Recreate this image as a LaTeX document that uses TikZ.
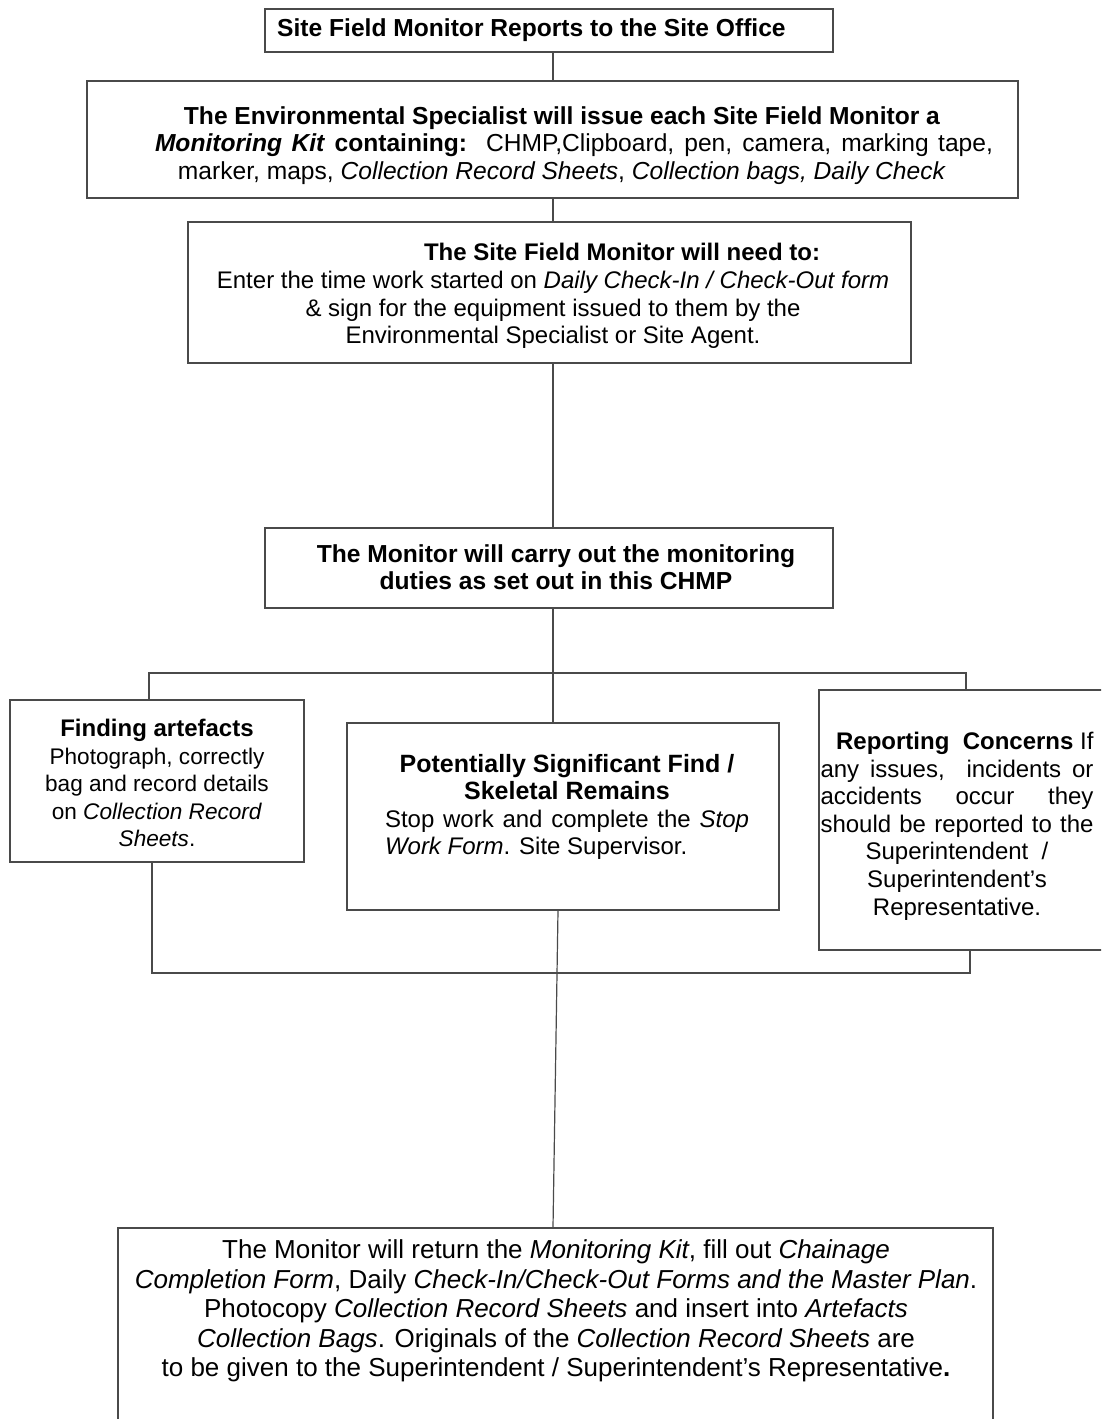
\documentclass[tikz,border=0pt]{standalone}
\usepackage{fontspec}
\setmainfont{Liberation Sans}
\definecolor{linec}{HTML}{4A4A4A}
\tikzset{
  box/.style={draw=linec, line width=1.3pt, inner sep=0pt},
  link/.style={draw=linec, line width=1.2pt},
  txt/.style={inner sep=0pt, align=center, font=\fontsize{24}{27.6}\selectfont},
  bigtxt/.style={inner sep=0pt, align=center, font=\fontsize{26}{29.5}\selectfont},
}
\begin{document}
\begin{tikzpicture}[x=1pt, y=-1pt]
  \useasboundingbox (0,0) rectangle (1101,1419);
  \clip (0,0) rectangle (1101,1419);

  % frames
  \node[box, minimum width=568, minimum height=43]  (b1) at (549,30.5) {};
  \node[box, minimum width=931, minimum height=117] (b2) at (552.5,139.5) {};
  \node[box, minimum width=723, minimum height=141] (b3) at (549.5,292.5) {};
  \node[box, minimum width=568, minimum height=80]  (b4) at (549,568) {};
  \node[box, minimum width=294, minimum height=162] (b5) at (157,781) {};
  \node[box, minimum width=432, minimum height=187] (b6) at (563,816.5) {};
  \node[box, minimum width=296, minimum height=260] (b7) at (967,820) {};
  \node[box, minimum width=875, minimum height=212] (b8) at (555.5,1334) {};

  % texts
  \node[txt, anchor=west, font=\fontsize{24.6}{27.6}\selectfont] (t1) at (277,30.5)
    {\textbf{Site Field Monitor Reports to the Site Office}};
  \node[txt, font=\fontsize{24.6}{27.5}\selectfont] (t2) at (562,145.5)
    {\textbf{The Environmental Specialist will issue each Site Field Monitor a}\\
     \hspace*{24pt}\makebox[838pt][s]{\textbf{\textit{Monitoring Kit} containing:}\ \ CHMP,Clipboard, pen, camera, marking tape,}\\
     marker, maps, \textit{Collection Record Sheets}, \textit{Collection bags, Daily Check}};
  \node[txt] (t3a) at (622,252) {\textbf{The Site Field Monitor will need to:}};
  \node[txt] (t3b) at (553,310)
    {Enter the time work started on \textit{Daily Check-In / Check-Out form}\\
     \& sign for the equipment issued to them by the\\
     Environmental Specialist or Site Agent.};
  \node[txt, font=\fontsize{24.6}{27.6}\selectfont] (t4) at (556,567)
    {\textbf{The Monitor will carry out the monitoring}\\
     \textbf{duties as set out in this CHMP}};
  \node[txt, font=\fontsize{22.6}{27.5}\selectfont] (t5) at (157,783)
    {{\fontsize{24}{27.5}\selectfont\textbf{Finding artefacts}}\\
     Photograph, correctly\\
     bag and record details\\
     on \textit{Collection Record}\\
     \textit{Sheets}.};
  \node[txt, font=\fontsize{24}{27.5}\selectfont] (t6) at (567,807)
    {{\fontsize{25}{27.5}\selectfont\textbf{Potentially Significant Find /}}\\
     {\fontsize{25}{27.5}\selectfont\textbf{Skeletal Remains}}\\
     \makebox[364pt][s]{Stop work and complete the \textit{Stop}}\\
     \makebox[364pt][l]{\textit{Work Form}. Site Supervisor.}};
  \node[txt] (t7) at (957,826)
    {\makebox[273pt][r]{\textbf{Reporting\ \ Concerns} If}\\
     \makebox[273pt][s]{any issues,\ \ incidents or}\\
     \makebox[273pt][s]{accidents occur they}\\
     \makebox[273pt][s]{should be reported to the}\\
     Superintendent\ \ /\\
     Superintendent’s\\
     Representative.};
  \node[bigtxt] (t8) at (556,1311)
    {The Monitor will return the \textit{Monitoring Kit}, fill out \textit{Chainage}\\
     \textit{Completion Form}, Daily \textit{Check-In/Check-Out Forms and the Master Plan}.\\
     Photocopy \textit{Collection Record Sheets} and insert into \textit{Artefacts}\\
     \textit{Collection Bags}. Originals of the \textit{Collection Record Sheets} are\\
     to be given to the Superintendent / Superintendent’s Representative\textbf{.}};

  % guide points for the connectors
  \coordinate (axis) at (553,0);
  \coordinate (axisb) at (558,0);
  \coordinate (splitl) at (149,673);
  \coordinate (splitr) at (966,673);
  \coordinate (joinl) at (152,973);
  \coordinate (joinr) at (970,973);

  % connectors
  \draw[link] (b1.south -| axis) -- (b2.north -| axis);
  \draw[link] (b2.south -| axis) -- (b3.north -| axis);
  \draw[link] (b3.south -| axis) -- (b4.north -| axis);
  \draw[link] (b4.south -| axis) -- (b6.north -| axis);
  \draw[link] (b5.north -| splitl) -- (splitl) -- (splitr) -- (b7.north -| splitr);
  \draw[link] (b5.south -| joinl) -- (joinl) -- (joinr) -- (b7.south -| joinr);
  \draw[link] (b6.south -| axisb) -- (b8.north -| axis);
\end{tikzpicture}
\end{document}
